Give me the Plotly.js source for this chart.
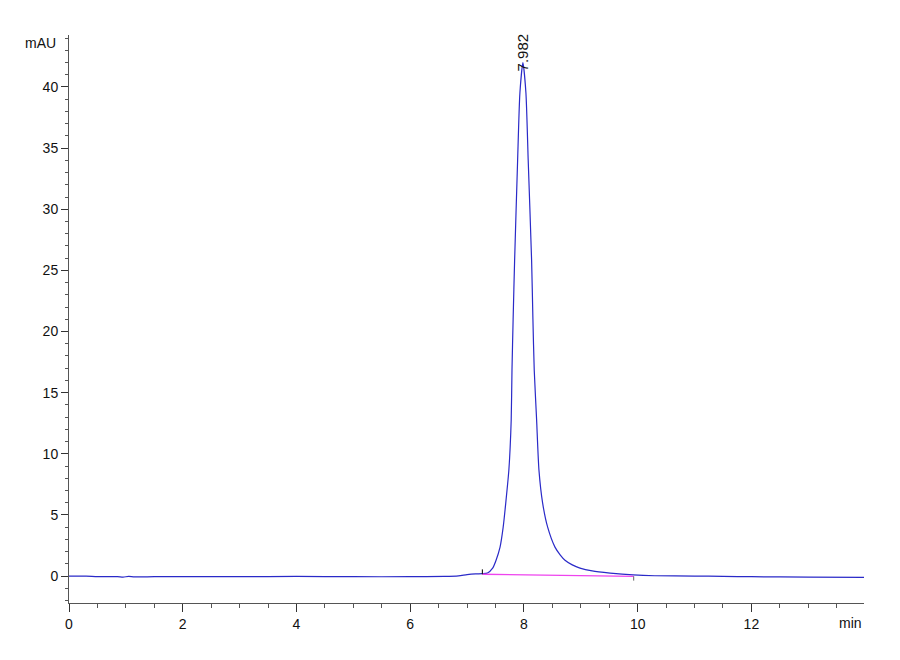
<!DOCTYPE html>
<html>
<head>
<meta charset="utf-8">
<script src="https://cdn.plot.ly/plotly-3.0.1.min.js"></script>
<style>
  html, body { margin: 0; padding: 0; background: #fff; }
  #chart { width: 900px; height: 660px; }
</style>
</head>
<body>
<div id="chart"></div>
<script>
// retention time (min) and signal (mAU)
const times = [0, 0.3, 0.5, 0.85, 0.95, 1.05, 1.15, 1.5, 2, 3, 4, 5, 6, 6.6, 6.85, 7.0, 7.15, 7.27, 7.36, 7.45,
  7.51, 7.58, 7.635, 7.68, 7.735, 7.776, 7.79, 7.81, 7.836, 7.889, 7.929, 7.982,
  8.035, 8.075, 8.135, 8.158, 8.181, 8.223, 8.264, 8.329, 8.417, 8.546, 8.64, 8.722, 8.85, 8.986,
  9.2, 9.515, 9.92, 10.3, 11, 11.5, 12, 13, 14];
const signal = [0, 0, -0.04, -0.04, -0.08, -0.03, -0.07, -0.05, -0.05, -0.05, -0.03, -0.05, -0.05, -0.03, 0.02, 0.12, 0.18, 0.2, 0.26, 0.65,
  1.3, 2.37, 4.0, 5.97, 8.67, 12.76, 16.85, 21.0, 25.8, 34.0, 39.5, 42.0,
  39.5, 34.0, 25.8, 21.0, 16.85, 12.76, 8.67, 5.97, 4.0, 2.37, 1.72, 1.3, 0.92, 0.65,
  0.42, 0.25, 0.1, 0.03, 0.0, -0.02, -0.05, -0.08, -0.1];

// integration baseline and peak marks
const peakStart = [7.27, 0.15];
const peakEnd = [9.93, -0.02];
const peakTime = 7.982;
const peakHeight = 42.0;

const xTickStep = 2, yTickStep = 5;

const narrow = '"Liberation Sans Narrow", "Arial Narrow", "Liberation Sans", Arial, sans-serif';

const traces = [
  {
    x: times,
    y: signal,
    mode: 'lines',
    type: 'scatter',
    line: {color: '#2a2ac8', width: 1.2, shape: 'spline', smoothing: 0.6},
    hoverinfo: 'x+y'
  },
  {
    x: [peakStart[0], peakEnd[0]],
    y: [peakStart[1], peakEnd[1]],
    mode: 'lines',
    type: 'scatter',
    line: {color: '#ee44ee', width: 1.4},
    hoverinfo: 'skip'
  }
];

const layout = {
  width: 900,
  height: 660,
  margin: {l: 69, r: 36, t: 35, b: 57},
  paper_bgcolor: '#fff',
  plot_bgcolor: '#fff',
  showlegend: false,
  font: {family: narrow, size: 14, color: '#111'},
  xaxis: {
    range: [0, 13.98],
    dtick: xTickStep,
    tick0: 0,
    showgrid: false,
    zeroline: false,
    showline: true,
    linecolor: '#555',
    linewidth: 1,
    ticks: 'outside',
    ticklen: 8,
    tickcolor: '#333',
    tickfont: {family: narrow, size: 14, color: '#111'},
    minor: {dtick: xTickStep / 4, ticks: 'outside', ticklen: 4, tickcolor: '#555', showgrid: false}
  },
  yaxis: {
    range: [-2.2, 44.25],
    dtick: yTickStep,
    tick0: 0,
    showgrid: false,
    zeroline: false,
    showline: true,
    linecolor: '#555',
    linewidth: 1,
    ticks: 'outside',
    ticklen: 7,
    tickcolor: '#333',
    tickfont: {family: narrow, size: 14, color: '#111'},
    minor: {dtick: 1, ticks: 'outside', ticklen: 3, tickcolor: '#555', showgrid: false}
  },
  shapes: [
    {type: 'line', xref: 'x', yref: 'y', x0: peakStart[0], x1: peakStart[0], y0: peakStart[1], y1: peakStart[1] + 0.4,
      line: {color: '#222', width: 1.2}},
    {type: 'line', xref: 'x', yref: 'y', x0: peakEnd[0], x1: peakEnd[0], y0: peakEnd[1], y1: peakEnd[1] - 0.35,
      line: {color: '#666', width: 1}}
  ],
  annotations: [
    {x: peakTime, y: peakHeight, xref: 'x', yref: 'y', text: peakTime.toFixed(3), showarrow: false,
      textangle: -90, yanchor: 'middle', xanchor: 'center', yshift: 10,
      font: {family: 'Arial, "Liberation Sans", sans-serif', size: 15, color: '#111'}},
    {x: 0, y: 1, xref: 'paper', yref: 'paper', text: 'mAU', showarrow: false,
      xanchor: 'right', yanchor: 'middle', xshift: -11, yshift: -8,
      font: {family: narrow, size: 14, color: '#111'}},
    {x: 1, y: 0, xref: 'paper', yref: 'paper', text: 'min', showarrow: false,
      xanchor: 'right', yanchor: 'top', yshift: -10,
      font: {family: narrow, size: 14, color: '#111'}}
  ]
};

Plotly.newPlot('chart', traces, layout, {displayModeBar: false, staticPlot: true});
</script>
</body>
</html>
